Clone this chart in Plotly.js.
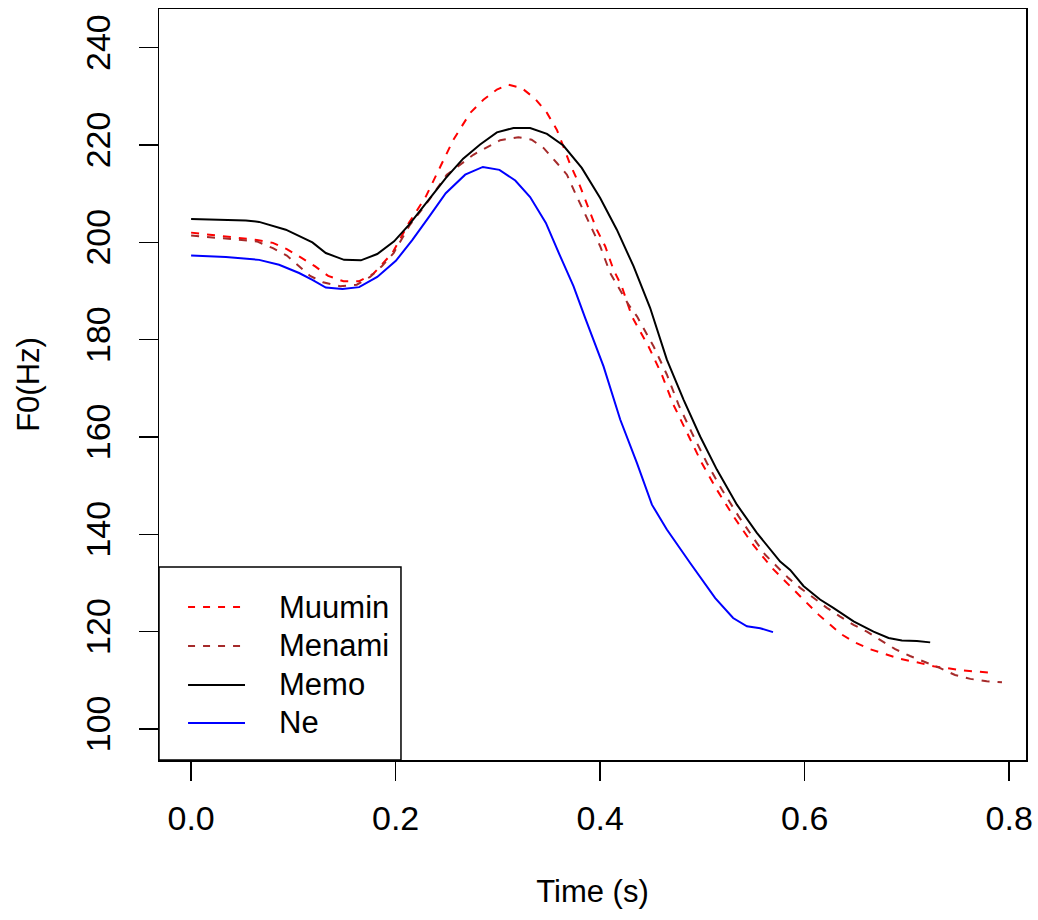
<!DOCTYPE html>
<html>
<head>
<meta charset="utf-8">
<script src="https://cdn.plot.ly/plotly-3.0.1.min.js"></script>
<style>html,body{margin:0;padding:0;background:#fff;}#chart{width:1038px;height:920px;}</style>
</head>
<body>
<div id="chart"></div>
<script>
// Series names and styles
const seriesNames = ["Muumin", "Menami", "Memo", "Ne"];
const seriesColors = ["#FF0000", "#A52A2A", "#000000", "#0000FF"];
const seriesDash = ["8px,8px", "8px,8px", "solid", "solid"];

// Muumin (red dashed)
const muuminT = [0.000,0.0643,0.080,0.0936,0.108,0.121,0.134,0.149,0.164,0.178,0.1968,0.213,0.2295,0.2425,0.2565,0.2729,0.2858,0.299,0.3103,0.3234,0.3364,0.348,0.3577,0.364,0.3707,0.3804,0.3886,0.3967,0.4049,0.413,0.4212,0.431,0.4473,0.4603,0.4717,0.4848,0.4995,0.514,0.5304,0.5483,0.568,0.5793,0.5907,0.602,0.6135,0.625,0.6364,0.649,0.664,0.680,0.6934,0.7097,0.726,0.739,0.7555,0.770,0.786];
const muuminF = [202.0,200.5,199.9,198.6,196.8,195.1,193.1,192.0,192.0,193.5,197.8,204.0,209.4,214.9,221.1,226.6,229.3,231.4,232.4,231.7,229.5,226.6,223.1,219.7,216.0,211.5,207.1,202.6,199.2,194.4,190.9,184.8,178.6,172.8,166.6,160.8,154.6,149.2,143.7,138.2,133.1,130.7,128.3,125.9,123.5,121.4,119.4,117.8,116.4,115.3,114.4,113.7,112.9,112.5,112.0,111.8,111.5];

// Menami (brown dashed)
const menamiT = [0.000,0.0643,0.080,0.0936,0.105,0.1164,0.129,0.1457,0.162,0.175,0.1865,0.198,0.214,0.232,0.250,0.276,0.3022,0.320,0.333,0.3446,0.3577,0.3675,0.3756,0.3837,0.3919,0.400,0.4098,0.4196,0.4277,0.436,0.4523,0.4653,0.4767,0.4898,0.5045,0.519,0.5354,0.5533,0.5614,0.5728,0.5842,0.5956,0.6086,0.6217,0.6347,0.6478,0.6608,0.674,0.6885,0.703,0.716,0.7325,0.747,0.762,0.778,0.7929];
const menamiF = [201.4,200.2,198.8,197.3,195.2,193.1,191.8,191.0,191.3,192.9,195.1,197.8,203.6,208.5,213.9,218.0,221.0,221.6,221.1,219.4,216.3,213.9,210.1,206.4,202.6,199.2,193.7,190.3,187.2,184.8,178.6,172.8,166.6,160.8,154.6,149.2,143.7,138.2,135.8,133.4,131.0,129.0,126.9,124.9,123.1,121.4,120.0,118.3,116.4,115.0,113.9,112.5,111.1,110.3,109.8,109.6];

// Memo (black solid)
const memoT = [0.000,0.034,0.0535,0.0665,0.0926,0.1186,0.1317,0.1496,0.166,0.182,0.1985,0.213,0.2295,0.249,0.266,0.2826,0.299,0.3152,0.3315,0.348,0.364,0.382,0.400,0.4163,0.4326,0.4489,0.4652,0.4815,0.4978,0.5141,0.5337,0.5532,0.576,0.5858,0.5988,0.615,0.628,0.6478,0.6673,0.682,0.695,0.7097,0.7227];
const memoF = [204.8,204.7,204.5,204.2,202.6,200.0,197.8,196.4,196.3,197.6,200.2,203.6,208.1,213.2,217.2,220.1,222.6,223.5,223.5,222.3,219.9,215.3,209.1,202.6,195.1,186.5,175.9,167.7,160.1,153.3,146.1,140.3,134.4,132.7,129.4,126.6,124.9,122.1,120.0,118.7,118.2,118.1,117.8];

// Ne (blue solid)
const neT = [0.000,0.034,0.0665,0.086,0.1056,0.1186,0.1317,0.148,0.1643,0.182,0.2002,0.2164,0.2328,0.249,0.268,0.2853,0.3015,0.317,0.3315,0.3469,0.361,0.3739,0.3853,0.4033,0.4196,0.4359,0.4506,0.4652,0.488,0.5125,0.530,0.5435,0.5565,0.569];
const neF = [197.3,197.0,196.4,195.4,193.7,192.3,190.7,190.4,190.8,192.9,196.2,200.5,205.3,210.1,213.9,215.5,214.9,212.7,209.3,204.0,197.1,191.0,184.5,174.5,163.6,154.7,146.1,141.0,134.1,126.9,122.8,121.1,120.7,119.9];

// Axis ticks
const xTicks = [0.0, 0.2, 0.4, 0.6, 0.8];
const xTickLabels = ["0.0", "0.2", "0.4", "0.6", "0.8"];
const yTicks = [100, 120, 140, 160, 180, 200, 220, 240];
const yTickLabels = ["100", "120", "140", "160", "180", "200", "220", "240"];

const FONT = "Liberation Sans, Arial, Helvetica, sans-serif";

const xs = [muuminT, menamiT, memoT, neT];
const ys = [muuminF, menamiF, memoF, neF];
const traces = seriesNames.map((n, i) => ({
  x: xs[i], y: ys[i], name: n, mode: "lines", showlegend: false,
  line: {color: seriesColors[i], width: 2, dash: seriesDash[i]}
}));

// Legend box drawn in the R style (box in the lower-left corner of the plot area)
const legBox = {x0: 0, x1: 0.2791, y0: 0, y1: 0.2570};
const legLineX = [0.0335, 0.0992];
const legTextX = 0.1361;
const legRowY = [0.2037, 0.1518, 0.0999, 0.0493];

const shapes = [{
  type: "rect", xref: "paper", yref: "paper",
  x0: legBox.x0, x1: legBox.x1, y0: legBox.y0, y1: legBox.y1,
  line: {color: "#000", width: 1.5}, fillcolor: "#fff", layer: "above"
}];
const annotations = [];
seriesNames.forEach((n, i) => {
  shapes.push({
    type: "line", xref: "paper", yref: "paper",
    x0: legLineX[0], x1: legLineX[1], y0: legRowY[i], y1: legRowY[i],
    line: {color: seriesColors[i], width: 2, dash: seriesDash[i] === "solid" ? "solid" : "7px,8px"}, layer: "above"
  });
  annotations.push({
    xref: "paper", yref: "paper", x: legTextX, y: legRowY[i],
    xanchor: "left", yanchor: "middle", showarrow: false, text: n,
    font: {family: FONT, size: 31, color: "#000"}
  });
});

const layout = {
  width: 1038, height: 920,
  paper_bgcolor: "#fff", plot_bgcolor: "#fff",
  margin: {l: 159, r: 12, t: 9, b: 160},
  font: {family: FONT, size: 31, color: "#000"},
  showlegend: false,
  shapes: shapes,
  annotations: annotations,
  xaxis: {
    range: [-0.0314, 0.8164], showgrid: false, zeroline: false,
    showline: true, mirror: true, linecolor: "#000", linewidth: 1.5,
    ticks: "outside", ticklen: 19, tickwidth: 1.5, tickcolor: "#000",
    tickvals: xTicks, ticktext: xTickLabels, ticklabelstandoff: 9,
    tickfont: {family: FONT, size: 34, color: "#000"},
    title: {text: "Time (s)", font: {family: FONT, size: 31, color: "#000"}, standoff: 44}
  },
  yaxis: {
    range: [93.63, 247.95], showgrid: false, zeroline: false,
    showline: true, mirror: true, linecolor: "#000", linewidth: 1.5,
    ticks: "outside", ticklen: 19, tickwidth: 1.5, tickcolor: "#000",
    tickvals: yTicks, ticktext: yTickLabels, tickangle: -90, ticklabelstandoff: 15,
    tickfont: {family: FONT, size: 34, color: "#000"},
    title: {text: "F0(Hz)", font: {family: FONT, size: 31, color: "#000"}, standoff: 30}
  }
};

Plotly.newPlot("chart", traces, layout, {displayModeBar: false, staticPlot: true});
</script>
</body>
</html>
